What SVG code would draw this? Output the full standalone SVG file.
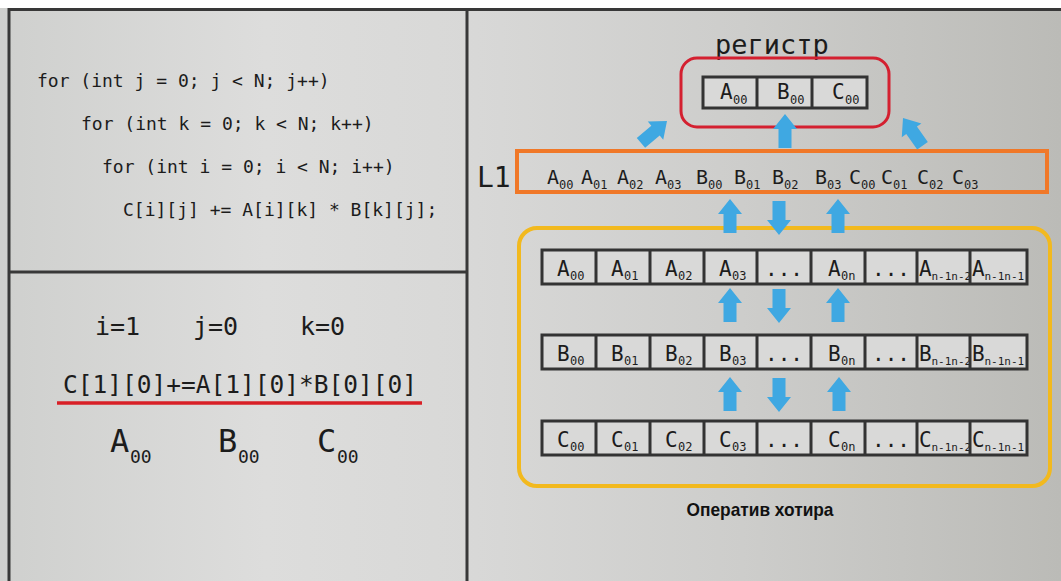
<svg xmlns="http://www.w3.org/2000/svg" width="1061" height="581" viewBox="0 0 1061 581">
<defs>
<linearGradient id="bg" x1="0" y1="0" x2="1" y2="0">
<stop offset="0" stop-color="#cfd0ce"/>
<stop offset="0.25" stop-color="#dddddc"/>
<stop offset="0.45" stop-color="#d8d8d7"/>
<stop offset="0.7" stop-color="#cdcdcb"/>
<stop offset="1" stop-color="#bbbbb7"/>
</linearGradient>
<path id="up" d="M0,0 L12,15 L6.5,15 L6.5,34 L-6.5,34 L-6.5,15 L-12,15 Z"/>
<clipPath id="c8"><rect x="917" y="240" width="53" height="230"/></clipPath>
<clipPath id="c9"><rect x="970" y="240" width="57" height="230"/></clipPath>
</defs>
<style>
.mono{font-family:"DejaVu Sans Mono","Liberation Mono",monospace;fill:#1c1c1c}
.code{font-size:18px}
.big{font-size:25px}
.lt{font-size:21px}
.sb{font-size:12px}
.sn{font-size:11px}
.frame{stroke:#383838;stroke-width:3;fill:none}
.cell{fill:#d9d9d8;stroke:#333;stroke-width:3}
.div{stroke:#333;stroke-width:3}
.arr{fill:#3fa8e2}
</style>
<rect x="0" y="0" width="1061" height="581" fill="url(#bg)"/>
<rect x="0" y="0" width="1061" height="8" fill="#ffffff"/>
<g id="frame">
<line class="frame" x1="9" y1="9.5" x2="1061" y2="9.5"/>
<line class="frame" x1="9" y1="8" x2="9" y2="581"/>
<line class="frame" x1="467" y1="8" x2="467" y2="581"/>
<line class="frame" x1="9" y1="272" x2="467" y2="272"/>
</g>
<g id="code" class="mono code">
<text x="37" y="87">for (int j = 0; j &lt; N; j++)</text>
<text x="81" y="130">for (int k = 0; k &lt; N; k++)</text>
<text x="102" y="173">for (int i = 0; i &lt; N; i++)</text>
<text x="123" y="216">C[i][j] += A[i][k] * B[k][j];</text>
</g>
<g id="values" class="mono">
<text class="big" x="95" y="335">i=1</text>
<text class="big" x="193" y="335">j=0</text>
<text class="big" x="300" y="335">k=0</text>
<text x="63" y="393" font-size="24.5">C[1][0]+=A[1][0]*B[0][0]</text>
<line x1="57" y1="403" x2="422" y2="403" stroke="#d81f26" stroke-width="3.5"/>
<text x="110" y="452" font-size="32">A</text><text x="130" y="463" font-size="18">00</text>
<text x="218" y="452" font-size="32">B</text><text x="238" y="463" font-size="18">00</text>
<text x="317" y="452" font-size="32">C</text><text x="337" y="463" font-size="18">00</text>
</g>
<g id="register">
<text class="mono" x="715" y="54" font-size="27">регистр</text>
<rect x="681" y="58" width="208" height="69" rx="16" fill="none" stroke="#d42030" stroke-width="3"/>
<rect class="cell" x="703" y="77" width="164" height="31"/>
<line class="div" x1="757" y1="77" x2="757" y2="108"/>
<line class="div" x1="812" y1="77" x2="812" y2="108"/>
<g class="mono">
<text class="lt" x="720" y="99">A</text><text class="sb" x="733" y="104">00</text>
<text class="lt" x="777" y="99">B</text><text class="sb" x="790" y="104">00</text>
<text class="lt" x="832" y="99">C</text><text class="sb" x="845" y="104">00</text>
</g>
</g>
<g id="L1">
<text class="mono" x="477" y="187" font-size="28">L1</text>
<rect x="517" y="151" width="530" height="41" fill="none" stroke="#f07828" stroke-width="4"/>
<g class="mono">
<text x="547" y="184" font-size="20">A</text><text class="sb" x="559" y="189">00</text>
<text x="581" y="184" font-size="20">A</text><text class="sb" x="593" y="189">01</text>
<text x="617" y="184" font-size="20">A</text><text class="sb" x="629" y="189">02</text>
<text x="655" y="184" font-size="20">A</text><text class="sb" x="667" y="189">03</text>
<text x="696" y="184" font-size="20">B</text><text class="sb" x="708" y="189">00</text>
<text x="734" y="184" font-size="20">B</text><text class="sb" x="746" y="189">01</text>
<text x="772" y="184" font-size="20">B</text><text class="sb" x="784" y="189">02</text>
<text x="815" y="184" font-size="20">B</text><text class="sb" x="827" y="189">03</text>
<text x="849" y="184" font-size="20">C</text><text class="sb" x="861" y="189">00</text>
<text x="881" y="184" font-size="20">C</text><text class="sb" x="893" y="189">01</text>
<text x="917" y="184" font-size="20">C</text><text class="sb" x="929" y="189">02</text>
<text x="952" y="184" font-size="20">C</text><text class="sb" x="964" y="189">03</text>
</g>
</g>
<g id="memory">
<rect x="519" y="228" width="531" height="258" rx="18" fill="none" stroke="#f2b91e" stroke-width="4"/>
<g id="rowA" class="mono">
<rect class="cell" x="542" y="250" width="485" height="34"/>
<text class="lt" x="557" y="276">A</text><text class="sb" x="570" y="280">00</text>
<text class="lt" x="611" y="276">A</text><text class="sb" x="624" y="280">01</text>
<text class="lt" x="665" y="276">A</text><text class="sb" x="678" y="280">02</text>
<text class="lt" x="719" y="276">A</text><text class="sb" x="732" y="280">03</text>
<text class="lt" x="784" y="276" text-anchor="middle">...</text>
<text class="lt" x="828" y="276">A</text><text class="sb" x="841" y="280">0n</text>
<text class="lt" x="891" y="276" text-anchor="middle">...</text>
<g clip-path="url(#c8)"><text class="lt" x="919" y="276">A</text><text class="sn" x="931.5" y="280">n-1n-2</text></g>
<g clip-path="url(#c9)"><text class="lt" x="972" y="276">A</text><text class="sn" x="984.5" y="280">n-1n-1</text></g>
<path class="div" d="M596,250V284M650,250V284M704,250V284M757,250V284M811,250V284M865,250V284M917,250V284M970,250V284"/>
</g>
<g id="rowB" class="mono">
<rect class="cell" x="542" y="335" width="485" height="34"/>
<text class="lt" x="557" y="361">B</text><text class="sb" x="570" y="365">00</text>
<text class="lt" x="611" y="361">B</text><text class="sb" x="624" y="365">01</text>
<text class="lt" x="665" y="361">B</text><text class="sb" x="678" y="365">02</text>
<text class="lt" x="719" y="361">B</text><text class="sb" x="732" y="365">03</text>
<text class="lt" x="784" y="361" text-anchor="middle">...</text>
<text class="lt" x="828" y="361">B</text><text class="sb" x="841" y="365">0n</text>
<text class="lt" x="891" y="361" text-anchor="middle">...</text>
<g clip-path="url(#c8)"><text class="lt" x="919" y="361">B</text><text class="sn" x="931.5" y="365">n-1n-2</text></g>
<g clip-path="url(#c9)"><text class="lt" x="972" y="361">B</text><text class="sn" x="984.5" y="365">n-1n-1</text></g>
<path class="div" d="M596,335V369M650,335V369M704,335V369M757,335V369M811,335V369M865,335V369M917,335V369M970,335V369"/>
</g>
<g id="rowC" class="mono">
<rect class="cell" x="542" y="421" width="485" height="34"/>
<text class="lt" x="557" y="447">C</text><text class="sb" x="570" y="451">00</text>
<text class="lt" x="611" y="447">C</text><text class="sb" x="624" y="451">01</text>
<text class="lt" x="665" y="447">C</text><text class="sb" x="678" y="451">02</text>
<text class="lt" x="719" y="447">C</text><text class="sb" x="732" y="451">03</text>
<text class="lt" x="784" y="447" text-anchor="middle">...</text>
<text class="lt" x="828" y="447">C</text><text class="sb" x="841" y="451">0n</text>
<text class="lt" x="891" y="447" text-anchor="middle">...</text>
<g clip-path="url(#c8)"><text class="lt" x="919" y="447">C</text><text class="sn" x="931.5" y="451">n-1n-2</text></g>
<g clip-path="url(#c9)"><text class="lt" x="972" y="447">C</text><text class="sn" x="984.5" y="451">n-1n-1</text></g>
<path class="div" d="M596,421V455M650,421V455M704,421V455M757,421V455M811,421V455M865,421V455M917,421V455M970,421V455"/>
</g>
<text x="760" y="516" text-anchor="middle" font-family="Liberation Sans, Arial, sans-serif" font-weight="bold" font-size="19" fill="#111" textLength="147" lengthAdjust="spacingAndGlyphs">Оператив хотира</text>
</g>
<g id="connectors" class="arr">
<use href="#up" transform="translate(667,121) rotate(50)"/>
<use href="#up" transform="translate(785,114)"/>
<use href="#up" transform="translate(903,118) rotate(-35)"/>
<use href="#up" transform="translate(730,199)"/>
<use href="#up" transform="translate(779,235) rotate(180)"/>
<use href="#up" transform="translate(838,199)"/>
<use href="#up" transform="translate(730,288)"/>
<use href="#up" transform="translate(779,323) rotate(180)"/>
<use href="#up" transform="translate(838,288)"/>
<use href="#up" transform="translate(730,377)"/>
<use href="#up" transform="translate(779,412) rotate(180)"/>
<use href="#up" transform="translate(839,377)"/>
</g>
</svg>
